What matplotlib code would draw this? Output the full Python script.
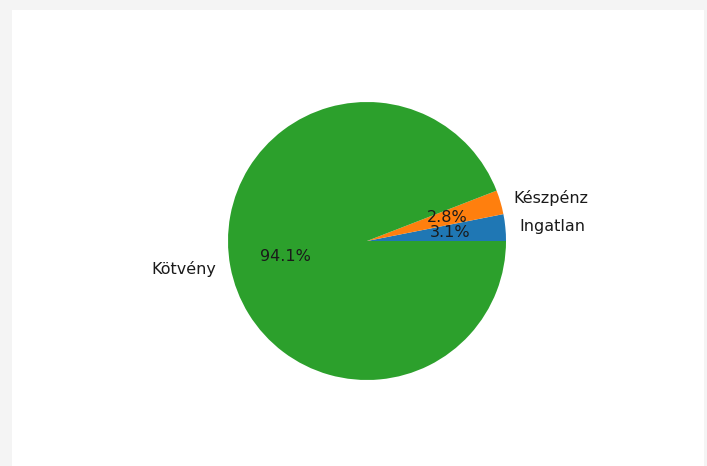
import matplotlib
matplotlib.use("Agg")
import matplotlib.pyplot as plt

labels = ["Ingatlan", "Készpénz", "Kötvény"]
values = [3.1, 2.8, 94.1]
colors = ["#1f77b4", "#ff7f0e", "#2ca02c"]

W, H = 707, 466
fig = plt.figure(figsize=(W / 100, H / 100), dpi=100, facecolor="#f4f4f4")

# white panel behind the chart
bg = fig.add_axes([12 / W, 0, (704 - 12) / W, (H - 10) / H], zorder=-1)
bg.set_facecolor("white")
bg.set_xticks([])
bg.set_yticks([])
for s in bg.spines.values():
    s.set_visible(False)

cx, cy, r = 367, 241, 139
ax = fig.add_axes([(cx - r) / W, (H - cy - r) / H, 2 * r / W, 2 * r / H])
ax.pie(values, labels=labels, colors=colors, autopct="%1.1f%%",
       textprops={"fontsize": 11.5, "color": "#1a1a1a"})
ax.set_xlim(-1, 1)
ax.set_ylim(-1, 1)
ax.set_aspect("equal")
fig.savefig("out.png", dpi=100, facecolor=fig.get_facecolor())
